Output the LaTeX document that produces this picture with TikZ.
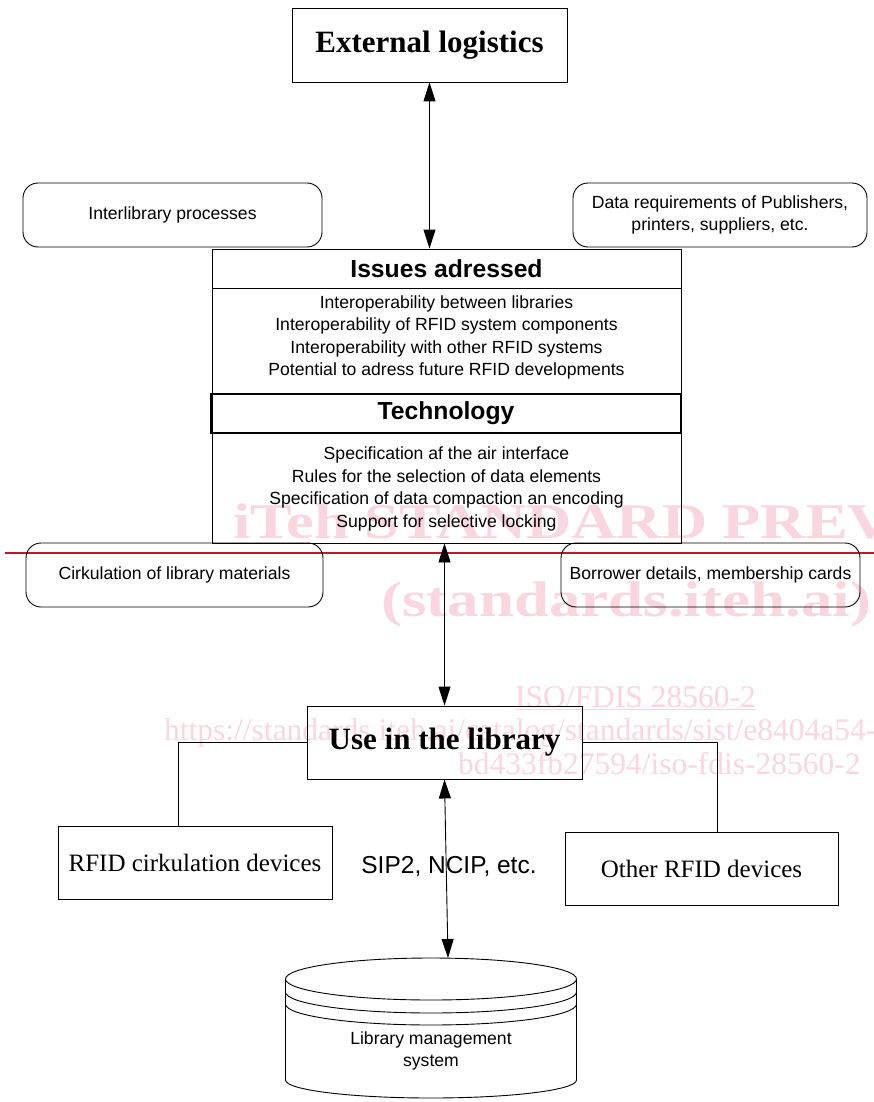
\documentclass[tikz,border=0pt]{standalone}
\usepackage{fontspec}
\setmainfont{Liberation Serif}
\setsansfont{Liberation Sans}
\usepackage{tikz}
\usetikzlibrary{positioning,arrows.meta,calc}
\definecolor{wmpink}{RGB}{250,214,222}
\definecolor{wmred}{RGB}{196,20,50}
\newcommand{\fsz}[2]{\fontsize{#1}{#2}\selectfont}

\begin{document}
\begin{tikzpicture}[
    x=1pt, y=-1pt,
    plainbox/.style={draw, line width=0.9pt, inner sep=0pt, align=center},
    roundbox/.style={draw, line width=0.9pt, rounded corners=15pt, inner sep=0pt,
                     align=center, font=\sffamily\fsz{17.6}{22.4}},
    serifbox/.style={plainbox, font=\fsz{25}{30}},
    bodytext/.style={inner sep=0pt, align=center, font=\sffamily\fsz{17.6}{22.4}},
    headtext/.style={inner sep=0pt, font=\sffamily\bfseries\fsz{24.7}{30}},
    arrow/.style={{Triangle[length=19pt,width=12pt]}-{Triangle[length=19pt,width=12pt]}, line width=0.9pt},
    link/.style={line width=0.9pt},
    wmbig/.style={text=wmpink, inner sep=0pt, anchor=base west, font=\bfseries\fsz{50}{60}},
    wmsmall/.style={text=wmpink, inner sep=0pt, anchor=base west, font=\fsz{31.5}{34}},
]
  \useasboundingbox (0,0) rectangle (874,1102);

  % watermark of the preview copy
  \node[wmbig] (wmone) at (233,538) {\scalebox{1.25}[1]{iTeh STANDARD PREVIEW}};
  \node[wmbig] (wmtwo) at (381,616) {\scalebox{1.26}[1]{(standards.iteh.ai)}};
  \node[wmsmall] (wmiso) at (515,707) {\underline{ISO/FDIS 28560-2}};
  \node[wmsmall] (wmurl) at (164,740) {https://standards.iteh.ai/catalog/standards/sist/e8404a54-};
  \node[wmsmall] (wmid) at (458,774) {bd433fb27594/iso-fdis-28560-2};
  \draw[wmred, line width=2pt] (5,553) -- (874,553);

  % top
  \node[plainbox, minimum width=275, minimum height=74, font=\bfseries\fsz{31}{36}] (ext) at (429.5,45) {External logistics};
  \node[roundbox, minimum width=299, minimum height=64] (inter) at (172.5,215) {Interlibrary processes};
  \node[roundbox, minimum width=294, minimum height=64] (datareq) at (720,215) {Data requirements of Publishers,\\printers, suppliers, etc.};

  % issues and technology
  \node[plainbox, minimum width=469, minimum height=294] (frame) at (446.5,396) {};
  \node[headtext] (ihead) at (446.5,269) {Issues adressed};
  \draw[link] (frame.west |- 0,288) -- (frame.east |- 0,288);
  \node[bodytext] (ibody) at (446.5,337.5) {Interoperability between libraries\\
    Interoperability of RFID system components\\
    Interoperability with other RFID systems\\
    Potential to adress future RFID developments};
  \node[plainbox, line width=2pt, minimum width=470, minimum height=39, font=\sffamily\bfseries\fsz{24.7}{30}] (tech) at (446,413.5) {Technology};
  \node[bodytext] (tbody) at (446.5,489) {Specification af the air interface\\
    Rules for the selection of data elements\\
    Specification of data compaction an encoding\\
    Support for selective locking};

  \node[roundbox, minimum width=297, minimum height=64] (cirk) at (174.5,575) {Cirkulation of library materials};
  \node[roundbox, minimum width=299, minimum height=64] (borrow) at (710.5,575) {Borrower details, membership cards};

  % library
  \node[plainbox, minimum width=275, minimum height=73, font=\bfseries\fsz{31}{36}] (use) at (444.5,742.5) {Use in the library};
  \node[serifbox, minimum width=274, minimum height=73] (rfid) at (195,862.5) {RFID cirkulation devices};
  \node[serifbox, minimum width=273, minimum height=73] (other) at (701.5,868.5) {Other RFID devices};
  \node[inner sep=0pt, font=\sffamily\fsz{24.5}{30}] (sip) at (449,867) {SIP2, NCIP, etc.};

  % database
  \draw[link] (431,979) ellipse[x radius=145.5pt, y radius=21pt];
  \draw[link] (285.5,979) -- (285.5,1080) arc[start angle=180, end angle=360, x radius=145.5pt, y radius=18pt] -- (576.5,979);
  \foreach \d in {13,25}
    \draw[link] (285.5,{979+\d}) arc[start angle=180, end angle=360, x radius=145.5pt, y radius=21pt];
  \node[bodytext] (lms) at (431,1051) {Library management\\system};
  \coordinate (lmstop) at (448,958);

  \draw[arrow] (ext.south) -- (ext.south |- frame.north);
  \draw[arrow] (use.north |- frame.south) -- (use.north);
  \draw[arrow] (use.south) -- (lmstop);
  \draw[link] (use.west) -| ([xshift=-17pt]rfid.north);
  \draw[link] (use.east) -| ([xshift=15.5pt]other.north);
\end{tikzpicture}
\end{document}
